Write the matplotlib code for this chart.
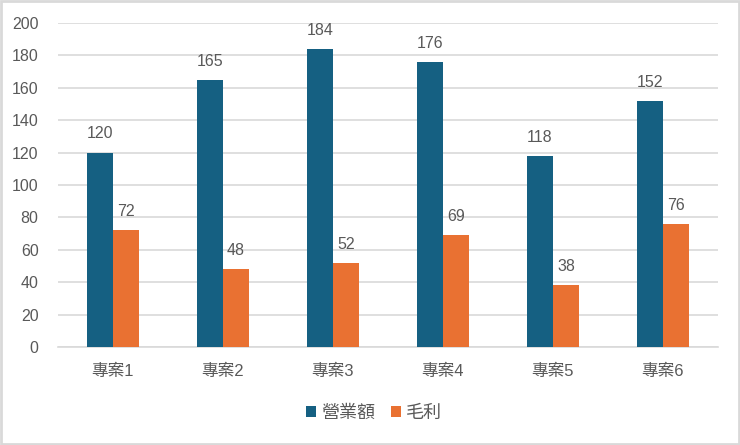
import matplotlib
matplotlib.use("Agg")
import matplotlib.pyplot as plt
import numpy as np
from matplotlib.patches import Rectangle

plt.rcParams['font.family'] = ['Liberation Sans', 'Noto Sans CJK TC', 'DejaVu Sans']

categories = ["專案1", "專案2", "專案3", "專案4", "專案5", "專案6"]
revenue = [120, 165, 184, 176, 118, 152]
profit = [72, 48, 52, 69, 38, 76]
series_names = ["營業額", "毛利"]
yticks = [0, 20, 40, 60, 80, 100, 120, 140, 160, 180, 200]

c_blue = "#156082"
c_orange = "#E97132"
txt = "#595959"

fig = plt.figure(figsize=(7.4, 4.45), dpi=100)
ax = fig.add_axes([58/740, 1-347/445, 660/740, 324/445])

x = np.arange(len(categories))
w = 0.236
b1 = ax.bar(x - w/2, revenue, w, color=c_blue, label=series_names[0], zorder=3)
b2 = ax.bar(x + w/2, profit, w, color=c_orange, label=series_names[1], zorder=3)

for bars, vals in ((b1, revenue), (b2, profit)):
    for r, v in zip(bars, vals):
        ax.annotate(str(v), (r.get_x() + r.get_width()/2, v), xytext=(0, 8),
                    textcoords="offset points", ha="center", va="bottom",
                    fontsize=11.5, color=txt)

ax.set_xlim(-0.5, len(categories) - 0.5)
ax.set_ylim(0, 200)
ax.set_yticks(yticks)
ax.set_xticks(x)
ax.set_xticklabels(categories, fontsize=12)
ax.yaxis.grid(True, color="#D9D9D9", linewidth=1.2, zorder=0)
ax.set_axisbelow(True)
for s in ("top", "right", "left"):
    ax.spines[s].set_visible(False)
ax.spines["bottom"].set_color("#D9D9D9")
ax.spines["bottom"].set_linewidth(1.2)
ax.tick_params(axis="both", length=0, colors=txt)
ax.tick_params(axis="y", pad=14, labelsize=11.5)
ax.tick_params(axis="x", pad=12)

fig.legend(handles=[b1, b2], labels=series_names, loc="center", bbox_to_anchor=(374/740, 1-413/445),
           ncol=2, frameon=False, fontsize=13, handlelength=0.55, handleheight=0.55,
           handletextpad=0.28, columnspacing=0.9, labelcolor=txt)

fig.patches.append(Rectangle((0.001, 0.002), 0.997, 0.996, transform=fig.transFigure,
                             fill=False, edgecolor="#D9D9D9", linewidth=2))

fig.savefig("out.png", dpi=100, facecolor="white")
